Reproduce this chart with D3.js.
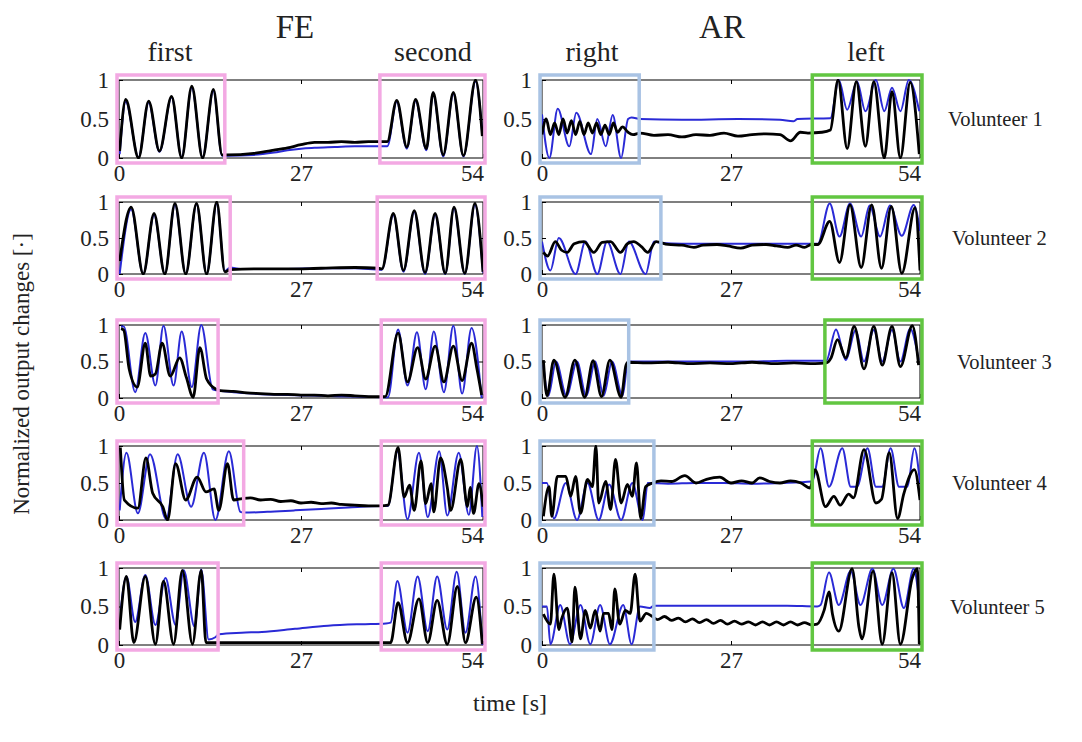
<!DOCTYPE html>
<html>
<head>
<meta charset="utf-8">
<title>FE / AR volunteers</title>
<script src="https://d3js.org/d3.v7.min.js"></script>
<style>
  body { margin: 0; background: #fff; }
  svg text { font-family: "Liberation Serif", "Times New Roman", serif; fill: #222; }
</style>
</head>
<body>
<div id="chart"></div>
<script>
// ---- data: [time s, normalized value] ----
const timeTicks = [0, 27, 54];
const valueTicks = [0, 0.5, 1];
const volunteers = ["Volunteer 1", "Volunteer 2", "Volunteer 3", "Volunteer 4", "Volunteer 5"];

// FE boxes ("first", "second") and AR boxes ("right", "left"), in seconds
const feBoxes = [[[0,15.4],[39,54]], [[0,16.2],[38.6,54]], [[0,14.4],[39.2,54]], [[0,18.2],[39.2,54]], [[0,14.4],[39.2,54]]];
const arBoxes = [[[0,13.6],[38.9,54]], [[0,16.7],[38.9,54]], [[0,12.1],[40.7,54]], [[0,15.7],[38.9,54]], [[0,15.7],[38.9,54]]];

const fe1Blue = [[0.1,0.05],[1.0,0.72],[2.9,0.01],[4.4,0.71],[6.0,0.08],[7.8,0.78],[9.3,0.01],[10.8,0.9],[12.4,0.01],[14.0,0.86],[15.3,0.03],[16,0.03],[20,0.04],[23,0.07],[25,0.1],[27,0.12],[29,0.13],[32,0.14],[35,0.15],[39.8,0.15],[41.2,0.72],[42.7,0.12],[44.0,0.73],[45.6,0.1],[46.6,0.82],[48.1,0.02],[49.6,0.82],[51.1,0.02],[52.9,0.98],[53.9,0.3]];
const fe1Black = [[0.1,0.09],[1.0,0.75],[2.9,0],[4.4,0.73],[6.0,0.09],[7.8,0.79],[9.3,0],[10.8,0.92],[12.4,0],[14.0,0.88],[15.3,0.04],[16,0.04],[20,0.06],[23,0.1],[25,0.13],[27,0.17],[29,0.2],[31,0.2],[33,0.21],[35,0.2],[37,0.21],[39.8,0.21],[41.2,0.74],[42.7,0.14],[44.0,0.75],[45.6,0.12],[46.6,0.84],[48.1,0.04],[49.6,0.84],[51.1,0.03],[52.9,1.0],[53.9,0.28]];

const ar1Blue = [[0,0.56],[1.05,0],[2.25,0.63],[3.9,0.15],[4.9,0.58],[7.0,0.05],[7.9,0.5],[9.1,0.15],[10.1,0.55],[11.3,0],[12.3,0.5],[12.8,0.52],[14,0.5],[20,0.49],[28,0.5],[34,0.49],[35.9,0.47],[36.5,0.5],[41.2,0.51],[42.4,1.0],[43.6,0.62],[45.0,0.98],[46.2,0.6],[47.7,1.0],[48.9,0.6],[50.0,0.9],[51.2,0.6],[52.4,1.0],[53.9,0.6]];
const ar1Black = [[0,0.3],[0.6,0.5],[1.2,0.3],[1.8,0.45],[2.4,0.3],[3.0,0.5],[3.6,0.32],[4.2,0.48],[4.8,0.3],[5.4,0.47],[6.0,0.3],[6.6,0.45],[7.2,0.32],[7.8,0.45],[8.4,0.3],[9.0,0.42],[9.6,0.3],[10.2,0.45],[10.8,0.33],[11.5,0.4],[12.3,0.33],[13,0.3],[14,0.32],[16,0.29],[18,0.3],[20,0.27],[22,0.3],[24,0.29],[26,0.32],[28,0.28],[30,0.3],[32,0.31],[34,0.3],[35.5,0.22],[36.9,0.33],[38,0.32],[40,0.33],[41.2,0.36],[42.3,1.0],[43.6,0.12],[44.9,0.98],[46.2,0.15],[47.4,0.98],[48.9,0.0],[50.0,0.85],[51.2,0.0],[52.6,0.97],[53.9,0.05]];

const fe2Blue = [[0.1,0.0],[1.8,0.9],[3.6,0],[5.2,0.82],[6.8,0],[8.3,0.96],[9.9,0],[11.5,0.97],[13.0,0],[14.5,0.98],[15.7,0.04],[16.5,0.09],[18,0.07],[20,0.07],[25,0.07],[30,0.08],[35,0.08],[39.0,0.06],[40.7,0.82],[42.2,0.03],[43.8,0.86],[45.4,0.0],[46.9,0.82],[48.4,0.0],[49.7,0.91],[51.3,0.0],[52.8,0.96],[54,0.02]];
const fe2Black = [[0.1,0.18],[1.8,0.93],[3.6,0],[5.2,0.84],[6.8,0],[8.3,0.98],[9.9,0],[11.5,0.98],[13.0,0],[14.5,1.0],[15.7,0.03],[16.5,0.06],[20,0.07],[25,0.07],[30,0.08],[35,0.09],[38.5,0.08],[39.0,0.07],[40.7,0.84],[42.2,0.05],[43.8,0.88],[45.4,0.02],[46.9,0.84],[48.4,0.01],[49.7,0.93],[51.3,0.01],[52.8,0.98],[54,0.03]];

const ar2Blue = [[0,0.45],[1.2,0.05],[2.4,0.5],[4.8,0.0],[6.2,0.45],[7.9,0.0],[9.3,0.45],[11.2,0.0],[12.4,0.45],[14.8,0.0],[16.0,0.45],[17,0.43],[20,0.42],[25,0.42],[30,0.42],[35,0.42],[39.4,0.42],[41.1,0.98],[42.5,0.52],[44.0,0.98],[45.6,0.52],[46.8,0.95],[48.3,0.52],[49.7,0.95],[51.4,0.53],[53.1,0.96],[54,0.6]];
const ar2Black = [[0.2,0.3],[0.8,0.25],[1.9,0.45],[2.8,0.33],[3.6,0.3],[4.6,0.42],[6.0,0.45],[7.4,0.3],[8.6,0.44],[9.8,0.45],[11.2,0.3],[12.2,0.42],[13.1,0.45],[14.2,0.38],[15.1,0.3],[16.3,0.45],[18,0.41],[20,0.4],[21.7,0.37],[23,0.4],[25,0.41],[26.5,0.39],[28.4,0.36],[30,0.4],[32,0.41],[33.5,0.39],[35.1,0.37],[36.3,0.4],[37.5,0.37],[38.5,0.41],[39.4,0.41],[41.1,0.73],[42.5,0.16],[44.0,0.96],[45.6,0.09],[47.1,0.96],[48.5,0.08],[49.9,0.94],[51.4,0.01],[53.3,0.92],[54,0.05]];

const fe3Blue = [[0.3,0.98],[0.7,0.98],[2.4,0.08],[3.9,0.89],[5.4,0.17],[6.6,0.99],[8.1,0.17],[9.3,0.91],[10.8,0.15],[12.2,1.0],[13.9,0.12],[14.9,0.1],[17,0.08],[20,0.06],[25,0.04],[30,0.03],[35,0.02],[39.9,0.01],[41.4,0.94],[42.8,0.17],[44.2,0.9],[45.5,0.12],[46.7,0.91],[48.2,0.08],[49.6,0.99],[50.9,0.06],[52.3,0.96],[53.8,0.0]];
const fe3Black = [[0.3,0.95],[0.7,0.93],[1.5,0.4],[2.7,0.15],[3.9,0.75],[4.7,0.3],[5.4,0.33],[6.4,0.75],[7.6,0.3],[9.0,0.55],[10.0,0.28],[11.0,0.01],[12.0,0.69],[13.0,0.26],[14.4,0.12],[15,0.1],[17,0.09],[19,0.07],[21,0.06],[23,0.05],[25,0.05],[27,0.04],[29,0.04],[31,0.03],[33,0.04],[35,0.03],[37,0.02],[39.5,0.02],[41.4,0.89],[42.8,0.22],[44.3,0.69],[45.5,0.26],[46.9,0.71],[48.2,0.22],[49.6,0.71],[50.9,0.24],[52.3,0.75],[53.1,0.4],[53.8,0.04]];

const ar3Blue = [[0.2,0.45],[0.9,0.03],[2.0,0.5],[3.5,0.03],[5.0,0.5],[6.3,0.03],[7.6,0.5],[8.8,0.03],[10.0,0.5],[11.5,0.03],[12.3,0.5],[15,0.5],[20,0.5],[25,0.5],[30,0.5],[35,0.51],[40.6,0.51],[42.0,0.94],[43.4,0.52],[44.8,0.93],[46.0,0.5],[47.4,0.93],[48.6,0.5],[50.0,0.93],[51.2,0.5],[52.6,0.95],[53.8,0.52]];
const ar3Black = [[0.2,0.52],[0.7,0.03],[1.7,0.52],[3.3,0.01],[4.7,0.52],[6.1,0.01],[7.3,0.51],[8.5,0.02],[9.7,0.52],[11.3,0.01],[12.0,0.45],[12.3,0.49],[15,0.48],[18,0.49],[21,0.47],[24,0.48],[27,0.47],[30,0.49],[33,0.47],[36,0.48],[39,0.47],[40.6,0.48],[41.3,0.55],[42.2,0.8],[43.4,0.55],[44.6,0.98],[46.0,0.4],[47.4,0.98],[48.6,0.45],[50.0,0.98],[51.2,0.43],[52.9,0.99],[53.8,0.45]];

const fe4Blue = [[0.1,0.13],[1.1,0.91],[2.8,0.09],[4.6,0.89],[7.0,0.01],[8.7,0.89],[10.7,0.18],[12.6,0.91],[14.3,0],[16.3,0.93],[18.0,0.11],[18.5,0.1],[22,0.11],[26,0.13],[30,0.15],[34,0.17],[38.9,0.19],[39.9,0.19],[41.3,0.93],[42.8,0.01],[44.5,0.91],[45.8,0.04],[47.5,0.93],[48.7,0.06],[50.4,0.91],[51.9,0.07],[53.1,1.0],[53.9,0.04]];
const fe4Black = [[0.2,0.98],[0.8,0.27],[2.8,0.16],[4.0,0.84],[5.0,0.36],[6.5,0.18],[7.2,0],[8.4,0.76],[9.9,0.27],[11.6,0.58],[12.9,0.38],[14.1,0.42],[14.8,0.13],[16.1,0.76],[17.0,0.27],[18.3,0.29],[19.5,0.3],[21,0.27],[22.5,0.28],[24,0.25],[25.5,0.26],[27,0.23],[28.5,0.24],[30,0.22],[31.5,0.23],[33,0.21],[35,0.2],[37,0.19],[38.9,0.19],[39.9,0.2],[41.4,0.98],[42.3,0.31],[43.1,0.47],[43.8,0.13],[44.8,0.8],[45.5,0.22],[46.3,0.49],[46.7,0.11],[47.7,0.84],[48.7,0.44],[49.2,0.13],[50.7,0.82],[51.7,0.18],[52.1,0.44],[52.6,0.09],[53.4,0.49],[54,0.18]];

const ar4Blue = [[0,0.5],[0.7,0.5],[1.7,0.02],[3.4,0.5],[5.0,0.0],[6.5,0.5],[8.1,0.0],[9.6,0.48],[11.3,0.0],[12.9,0.5],[14.4,0.0],[15.1,0.5],[18,0.49],[22,0.5],[26,0.5],[30,0.49],[34,0.5],[38.6,0.52],[39.8,0.97],[41.0,0.45],[42.9,0.97],[44.1,0.45],[45,0.45],[46.5,0.97],[47.7,0.45],[48.6,0.45],[49.8,0.97],[51.0,0.45],[52.2,0.45],[53.2,0.97],[54,0.5]];
const ar4Black = [[0.2,0.05],[1.0,0.45],[1.4,0.05],[2.2,0.59],[3.4,0.59],[4.1,0.32],[4.8,0.59],[5.5,0.09],[6.5,0.55],[7.2,0.45],[7.7,1.0],[8.1,0.23],[9.1,0.52],[9.8,0.14],[10.5,0.82],[11.3,0.23],[12.2,0.48],[12.9,0.32],[13.5,0.77],[14.1,0.02],[14.8,0.45],[15.8,0.5],[17,0.53],[18.5,0.52],[20.4,0.6],[22,0.5],[23.5,0.55],[25.4,0.58],[27,0.5],[28.5,0.53],[30,0.5],[31.1,0.57],[32.5,0.52],[34,0.5],[35.5,0.53],[37,0.5],[38.3,0.43],[39.0,0.68],[40.5,0.18],[41.7,0.32],[42.6,0.2],[43.8,0.35],[44.5,0.3],[46.0,0.95],[47.7,0.23],[48.5,0.28],[49.6,0.91],[50.8,0.02],[51.7,0.36],[53.2,0.68],[54,0.27]];

const fe5Blue = [[0.25,0.45],[1.1,0.89],[2.4,0.3],[3.9,0.91],[5.4,0.26],[6.9,0.87],[8.4,0.26],[9.6,0.97],[11.2,0.24],[12.2,0.98],[13.3,0.07],[14.3,0.1],[14.8,0.14],[18.2,0.16],[21.2,0.17],[26.1,0.21],[31.0,0.25],[35.9,0.27],[39.6,0.28],[40.3,0.29],[41.3,0.83],[42.8,0.16],[44.3,0.89],[45.8,0.18],[47.2,0.89],[48.7,0.2],[50.1,0.95],[51.4,0.16],[52.9,0.89],[53.9,0.0]];
const fe5Black = [[0.1,0.2],[1.1,0.89],[2.2,0.03],[3.9,0.89],[5.4,0.01],[6.6,0.83],[8.1,0.01],[9.4,0.97],[10.9,0.01],[12.2,0.97],[12.9,0.03],[14.3,0.03],[20,0.03],[25,0.03],[30,0.03],[35,0.03],[40.3,0.03],[41.4,0.55],[42.8,0.03],[44.5,0.6],[45.8,0.03],[47.2,0.58],[48.7,0.01],[50.2,0.76],[51.4,0.03],[53.0,0.62],[53.9,0.01]];

const ar5Blue = [[0,0.5],[0.7,0.5],[1.2,0.01],[2.6,0.52],[4.0,0.01],[5.5,0.52],[6.9,0.01],[8.3,0.52],[9.7,0.01],[11.6,0.52],[12.8,0.01],[14.0,0.5],[15.4,0.48],[16,0.51],[20,0.51],[25,0.51],[30,0.51],[35,0.51],[39.3,0.5],[39.8,0.52],[41.0,0.94],[42.4,0.52],[44.1,0.96],[45.5,0.52],[47.2,0.99],[48.6,0.52],[50.2,0.99],[51.7,0.48],[53.1,0.99],[53.8,0.64]];
const ar5Black = [[0.2,0.4],[1.2,0.27],[1.7,0.92],[2.4,0.2],[2.8,0.34],[3.6,0.48],[4.3,0.04],[4.7,0.75],[5.5,0.08],[6.2,0.45],[6.9,0.22],[7.6,0.45],[8.3,0.18],[8.8,0.41],[9.5,0.41],[10.0,0.2],[10.4,0.73],[11.1,0.27],[11.9,0.45],[12.6,0.41],[13.3,0.92],[14.0,0.31],[14.9,0.41],[15.6,0.38],[16.5,0.33],[17.5,0.37],[18.5,0.32],[19.5,0.35],[20.5,0.3],[21.5,0.34],[22.5,0.29],[23.5,0.33],[24.5,0.28],[25.5,0.32],[26.5,0.27],[27.5,0.31],[28.5,0.27],[29.5,0.3],[30.5,0.26],[31.5,0.3],[32.5,0.26],[33.5,0.3],[34.5,0.26],[35.5,0.3],[36.5,0.26],[37.5,0.29],[38.5,0.26],[39.3,0.27],[40.3,0.45],[41.0,0.69],[41.5,0.4],[42.4,0.18],[44.3,0.99],[45.3,0.22],[45.7,0.08],[47.3,0.96],[48.6,0.01],[50.0,0.94],[51.2,0.01],[52.9,0.87],[53.6,0.99],[53.9,0.01]];

const feBlue = [fe1Blue, fe2Blue, fe3Blue, fe4Blue, fe5Blue];
const feBlack = [fe1Black, fe2Black, fe3Black, fe4Black, fe5Black];
const arBlue = [ar1Blue, ar2Blue, ar3Blue, ar4Blue, ar5Blue];
const arBlack = [ar1Black, ar2Black, ar3Black, ar4Black, ar5Black];

// ---- layout ----
const W = 1082, H = 742;
const rowTop = [80, 202, 325, 446, 568];
const rowBot = [158, 274, 398, 520, 645];
const volX = [948, 952, 957, 952, 950];
const cols = [
  {x0: 119, x1: 483, blue: feBlue, black: feBlack, boxes: feBoxes, boxColor: ["#f3a9e3", "#f3a9e3"]},
  {x0: 542, x1: 920, blue: arBlue, black: arBlack, boxes: arBoxes, boxColor: ["#a9c3e4", "#62c641"]}
];

const svg = d3.select("#chart").append("svg")
    .attr("width", W)
    .attr("height", H);

let clipId = 0;

cols.forEach(function(col, ci) {
  for (let r = 0; r < 5; r++) {
    const x = d3.scaleLinear().domain([0, 54]).range([col.x0, col.x1]);
    const y = d3.scaleLinear().domain([0, 1]).range([rowBot[r], rowTop[r]]);
    const g = svg.append("g");

    // clip for traces
    const id = "clip" + (clipId++);
    svg.append("clipPath").attr("id", id)
      .append("rect")
        .attr("x", col.x0).attr("y", rowTop[r] - 1)
        .attr("width", col.x1 - col.x0).attr("height", rowBot[r] - rowTop[r] + 2);

    // frame
    g.append("rect")
      .attr("x", col.x0).attr("y", rowTop[r])
      .attr("width", col.x1 - col.x0).attr("height", rowBot[r] - rowTop[r])
      .attr("fill", "none").attr("stroke", "#000").attr("stroke-width", 1);

    // axes
    const xAxis = d3.axisBottom(x).tickValues(timeTicks).tickFormat(d => d)
        .tickSizeInner(-4).tickSizeOuter(0).tickPadding(7);
    const gx = g.append("g")
        .attr("transform", "translate(0," + rowBot[r] + ")")
        .call(xAxis);
    const yAxis = d3.axisLeft(y).tickValues(valueTicks).tickFormat(d => String(d))
        .tickSizeInner(-4).tickSizeOuter(0).tickPadding(10);
    g.append("g")
        .attr("transform", "translate(" + col.x0 + ",0)")
        .call(yAxis);
    g.append("g").attr("transform", "translate(0," + rowTop[r] + ")")
        .call(d3.axisTop(x).tickValues([27]).tickFormat("").tickSizeInner(-4).tickSizeOuter(0));
    g.append("g").attr("transform", "translate(" + col.x1 + ",0)")
        .call(d3.axisRight(y).tickValues([0.5]).tickFormat("").tickSizeInner(-4).tickSizeOuter(0));
    g.selectAll(".domain").remove();
    g.selectAll(".tick line").attr("stroke", "#000");
    g.selectAll(".tick text")
        .style("font-family", "'Liberation Serif', serif")
        .style("font-size", "23px").attr("fill", "#333");
    gx.selectAll(".tick text").filter(d => d === 54).attr("dx", -11);

    // traces
    const line = d3.line()
        .x(d => x(d[0]))
        .y(d => y(d[1]))
        .curve(d3.curveMonotoneX);
    const traces = g.append("g").attr("clip-path", "url(#" + id + ")");
    traces.append("path")
        .datum(col.blue[r])
        .attr("d", line)
        .attr("fill", "none").attr("stroke", "#2a2ad6").attr("stroke-width", 2);
    traces.append("path")
        .datum(col.black[r])
        .attr("d", line)
        .attr("fill", "none").attr("stroke", "#000").attr("stroke-width", 2.8)
        .attr("stroke-linejoin", "round");

    // highlighted windows
    col.boxes[r].forEach(function(b, bi) {
      g.append("rect")
        .attr("x", x(b[0]) - 2).attr("y", rowTop[r] - 5)
        .attr("width", x(b[1]) - x(b[0]) + 4).attr("height", rowBot[r] - rowTop[r] + 10)
        .attr("fill", "none").attr("stroke", col.boxColor[bi]).attr("stroke-width", 3.5);
    });

    if (ci === 1) {
      svg.append("text")
        .attr("x", volX[r]).attr("y", (rowTop[r] + rowBot[r]) / 2)
        .attr("dy", "0.35em")
        .style("font-size", "20.5px")
        .text(volunteers[r]);
    }
  }
});

// headers
const headers = [
  {t: "FE", x: 295, y: 38, s: 33},
  {t: "AR", x: 722, y: 38, s: 33},
  {t: "first", x: 170, y: 61, s: 28},
  {t: "second", x: 433, y: 61, s: 28},
  {t: "right", x: 592, y: 61, s: 28},
  {t: "left", x: 866, y: 61, s: 28}
];
svg.selectAll("text.hdr")
  .data(headers)
  .enter()
  .append("text")
    .attr("class", "hdr")
    .attr("x", d => d.x).attr("y", d => d.y)
    .attr("text-anchor", "middle")
    .style("font-size", d => d.s + "px")
    .text(d => d.t);

svg.append("text")
  .attr("transform", "translate(29,374) rotate(-90)")
  .attr("text-anchor", "middle")
  .style("font-size", "23px")
  .text("Normalized output changes [·]");

svg.append("text")
  .attr("x", 510).attr("y", 711)
  .attr("text-anchor", "middle")
  .style("font-size", "24px")
  .text("time [s]");
</script>
</body>
</html>
